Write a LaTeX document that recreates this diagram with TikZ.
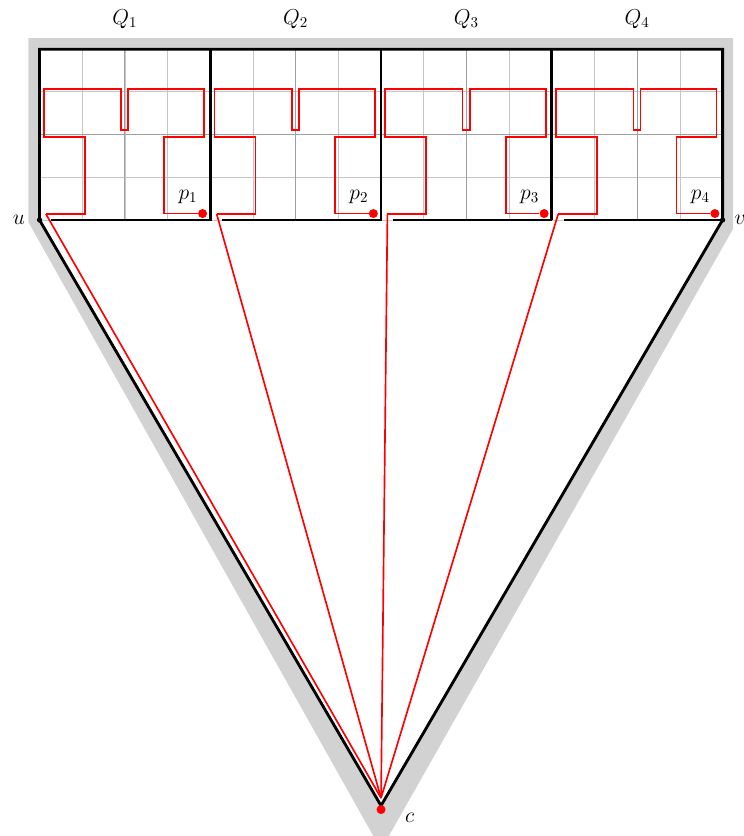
\documentclass[tikz,border=0pt]{standalone}
\usepackage{tikz}
\usetikzlibrary{positioning}

\begin{document}
\begin{tikzpicture}[every node/.style={font=\Large},
    thinline/.style={gray!45, line width=0.5pt},
    midline/.style={gray!75, line width=0.7pt},
    frame/.style={black, line width=1.9pt},
    walk/.style={red, line width=1.1pt},
    reddot/.style={circle, fill=red, inner sep=0pt, minimum size=6pt},
    blackdot/.style={circle, fill=black, inner sep=0pt, minimum size=3.5pt}]
    
    \fill[white] (-0.925,-14.43) rectangle (16.5,5.152);
    \useasboundingbox (-0.925,-14.43) rectangle (16.5,5.152);
    
    \coordinate (u) at (0,0);
    \coordinate (v) at (16,0);
    \coordinate (c) at (8,-13.72);
    \coordinate (cr) at (8,-13.54);
    
    % shaded border
    \fill[gray!35] (-0.26,4.26) -- (16.25,4.26) -- (16.25,-0.2) -- (8,-14.75) -- (-0.26,-0.05) -- cycle;
    \fill[white] (u) -- (0,4) -- (16,4) -- (v) -- (c) -- cycle;
    
    \foreach \i in {1,...,4} {
    \begin{scope}[shift={(4*\i-4,0)}]
        \draw[thinline] (0,0) grid (4,4);
        \draw[midline] (2,0) -- (2,4) (0,2) -- (4,2);
        \coordinate (s\i) at (0.15,0.14);
        \node[reddot] (p\i) at (3.82,0.15) {};
        \node (lp\i) at (3.48,0.55) {$p_{\i}$};
        \node (q\i) at (2,4.7) {$Q_{\i}$};
        \draw[walk] (s\i) -- (1.06,0.14) -- (1.06,1.94) -- (0.1,1.94) -- (0.1,3.06)
            -- (1.91,3.06) -- (1.91,2.1) -- (2.08,2.1) -- (2.08,3.06) -- (3.86,3.06)
            -- (3.86,1.95) -- (2.92,1.95) -- (2.92,0.15) -- (p\i);
    \end{scope}
    }
    
    % block edges
    \draw[frame] (0.28,0) -- (4,0) -- (4,4);
    \draw[frame] (4.28,0) -- (8,0) -- (8,4);
    \draw[frame] (8.28,0) -- (12,0) (12,0) -- (12,4);
    \draw[frame] (12.28,0) -- (16,0);
    \draw[frame] (0,4) -- (16,4) -- (v) -- (c) -- (u) -- cycle;
    
    \draw[walk] (s1) -- (cr);
    \draw[walk] (s2) -- (cr);
    \draw[walk] (s3) -- (cr);
    \draw[walk] (s4) -- (cr);
    
    \node[reddot, below=0.09 of c, anchor=center] (cdot) {};
    \node[blackdot] (udot) at (u) {};
    \node[blackdot] (vdot) at (v) {};
    
    \node[left=0.22 of u] (ulab) {$u$};
    \node[right=0.16 of v] (vlab) {$v$};
    \node[below right=0.05 and 0.44 of c] (clab) {$c$};
\end{tikzpicture}
\end{document}
